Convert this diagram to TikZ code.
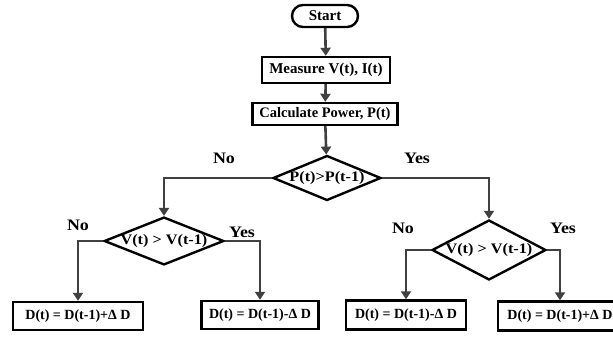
\documentclass[tikz,border=0pt]{standalone}
\usepackage{fontspec}
\setmainfont{Liberation Serif}
\newfontfamily\widefont[FakeStretch=1.12]{Liberation Serif}
\usepackage{tikz}
\usetikzlibrary{arrows.meta,shapes.geometric}

\begin{document}
\begin{tikzpicture}[x=1pt,y=-1pt,
    font=\bfseries\fontsize{15}{17}\selectfont,
    box/.style = {draw=black, line width=2.4pt, fill=white, inner sep=0pt, minimum height=28pt},
    update/.style = {box, font=\bfseries\fontsize{14}{16}\selectfont},
    decision/.style = {draw=black, line width=2.4pt, fill=white, diamond, inner sep=0pt,
      font=\widefont\bfseries\fontsize{14.5}{17}\selectfont},
    flow/.style = {draw=black!75, line width=2.6pt, -{Triangle[width=10pt,length=8pt]}},
    lbl/.style = {font=\widefont\bfseries\fontsize{16}{18}\selectfont}]
  \useasboundingbox (0,0) rectangle (613,337);

  % top of the chart
  \node[box, rounded corners=11pt, minimum width=66pt, minimum height=22pt] (start) at (325,16) {Start};
  \node[box, minimum width=128pt, minimum height=26pt] (measure) at (326,70) {Measure V(t), I(t)};
  \node[box, minimum width=145pt, minimum height=22pt, font=\bfseries\fontsize{14.5}{16}\selectfont] (calc) at (325,114) {Calculate Power, P(t)};
  \node[decision, minimum width=108pt, minimum height=45pt, aspect=2.4] (dec1) at (327,178) {P(t)>P(t-1)};

  % second level
  \node[decision, minimum width=110pt, minimum height=43pt, aspect=2.5] (decL) at (164,241) {V(t) > V(t-1)};
  \node[decision, minimum width=114pt, minimum height=60pt, aspect=1.9] (decR) at (489,250) {V(t) > V(t-1)};

  % duty cycle updates
  \node[update, minimum width=130pt] (boxLL) at (78,316) {D(t) = D(t-1)+Δ D};
  \node[update, minimum width=117pt] (boxLR) at (260,315) {D(t) = D(t-1)-Δ D};
  \node[update, minimum width=120pt, minimum height=29pt] (boxRL) at (406,315) {D(t) = D(t-1)-Δ D};
  \node[update, minimum width=124pt, minimum height=29pt] (boxRR) at (560,316) {D(t) = D(t-1)+Δ D};

  \draw[flow] (start) -- (measure);
  \draw[flow] (measure) -- (calc);
  \draw[flow] (calc) -- (dec1);
  \draw[flow] (dec1.west) -| (decL.north);
  \draw[flow] (dec1.east) -| (decR.north);
  \draw[flow] (decL.west) -| (boxLL.north);
  \draw[flow] (decL.east) -| (boxLR.north);
  \draw[flow] (decR.west) -| (boxRL.north);
  \draw[flow] (decR.east) -| (boxRR.north);

  \node[lbl] (no1) at (224,158) {No};
  \node[lbl] (yes1) at (417,158) {Yes};
  \node[lbl] (no2) at (78,225) {No};
  \node[lbl] (yes2) at (242,232) {Yes};
  \node[lbl] (no3) at (403,228) {No};
  \node[lbl] (yes3) at (563,228) {Yes};
\end{tikzpicture}
\end{document}
